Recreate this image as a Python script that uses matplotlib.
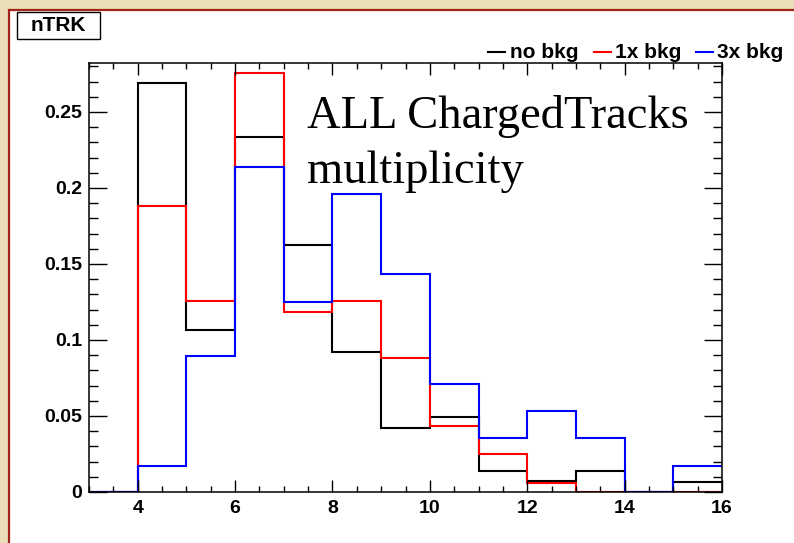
import matplotlib
matplotlib.use("Agg")
import matplotlib.pyplot as plt
from matplotlib.patches import Rectangle
from matplotlib.ticker import MultipleLocator, FixedLocator
import numpy as np

# ---- data ----
edges = [3, 4, 5, 6, 7, 8, 9, 10, 11, 12, 13, 14, 15, 16]
no_bkg = [0.0, 0.269, 0.1066, 0.2336, 0.1625, 0.0921, 0.042, 0.0493, 0.0138, 0.0072, 0.014, 0.0, 0.0068]
bkg_1x = [0.0, 0.188, 0.1257, 0.2757, 0.1184, 0.1257, 0.088, 0.0436, 0.0248, 0.0059, 0.0, 0.0, 0.0]
bkg_3x = [0.0, 0.0171, 0.0895, 0.2138, 0.125, 0.196, 0.1434, 0.0708, 0.0353, 0.0533, 0.0353, 0.0, 0.0173]
series_labels = ["no bkg", "1x bkg", "3x bkg"]
series_colors = ["#000000", "#ff0000", "#0000ff"]
title_text = "nTRK"
note_lines = ["ALL ChargedTracks", "multiplicity"]
xticks = [4, 6, 8, 10, 12, 14, 16]
yticks = [0, 0.05, 0.1, 0.15, 0.2, 0.25]
ytick_labels = ["0", "0.05", "0.1", "0.15", "0.2", "0.25"]

W, H = 794, 543
fig = plt.figure(figsize=(W / 100, H / 100), dpi=100)
fig.patch.set_facecolor("#eadfb6")

def px(x, y):
    return x / W, 1 - y / H

# white canvas with dark-red frame
x0, y0 = px(9, 10)
canvas = Rectangle((x0, -0.2), 1.2, y0 + 0.2, transform=fig.transFigure,
                   facecolor="white", edgecolor="#a3231a", linewidth=1.6, zorder=-5)
fig.patches.append(canvas)

L, R, T, B = 89, 722, 63, 492
ax = fig.add_axes([L / W, 1 - B / H, (R - L) / W, (B - T) / H])
ax.set_zorder(2)
ax.set_facecolor("white")

for vals, col in zip([no_bkg, bkg_1x, bkg_3x], series_colors):
    ax.stairs(vals, edges, color=col, linewidth=1.5, baseline=None)

ax.set_xlim(3, 16)
ax.set_ylim(0, 0.2822)

ax.xaxis.set_major_locator(FixedLocator(xticks))
ax.xaxis.set_minor_locator(MultipleLocator(0.5))
ax.yaxis.set_major_locator(FixedLocator(yticks))
ax.yaxis.set_minor_locator(MultipleLocator(0.01))
ax.set_yticklabels(ytick_labels)

ax.tick_params(axis="x", which="major", direction="in", length=8.6, width=1.0,
               top=True, bottom=True, pad=6)
ax.tick_params(axis="x", which="minor", direction="in", length=4.3, width=1.0,
               top=True, bottom=True)
ax.tick_params(axis="y", which="major", direction="in", length=13, width=1.0,
               left=True, right=True, pad=5)
ax.tick_params(axis="y", which="minor", direction="in", length=6.5, width=1.0,
               left=True, right=True)
for lab in ax.get_xticklabels() + ax.get_yticklabels():
    lab.set_fontfamily("Liberation Sans")
    lab.set_fontweight("bold")
    lab.set_fontsize(14)
for s in ax.spines.values():
    s.set_linewidth(1.1)

# annotation text (two lines, baselines at 128 and 183 px)
for line, base_y in zip(note_lines, [128, 183]):
    a, b = px(307, base_y)
    fig.text(a, b, line, ha="left", va="baseline", fontfamily="Liberation Serif",
             fontsize=33.5, color="black", zorder=5)

# title box
tx, ty = px(17, 39)
tw = (100 - 17) / W
th = (39 - 12) / H
fig.patches.append(Rectangle((tx, ty), tw, th, transform=fig.transFigure,
                             facecolor="white", edgecolor="black", linewidth=1.0, zorder=3))
fig.text(tx + tw / 2, ty + th / 2, title_text, ha="center", va="center",
         fontfamily="Liberation Sans", fontweight="bold", fontsize=15, zorder=4)

# legend
legend_pos = [(488, 510), (594, 615), (696, 717)]
ly = 52
for (lx, txp), lab, col in zip(legend_pos, series_labels, series_colors):
    a, b = px(lx, ly)
    c, _ = px(lx + 17, ly)
    fig.add_artist(plt.Line2D([a, c], [b, b], transform=fig.transFigure,
                              color=col, linewidth=1.5, zorder=4))
    t, _ = px(txp, ly)
    fig.text(t, b, lab, ha="left", va="center", fontfamily="Liberation Sans",
             fontweight="bold", fontsize=15, zorder=4)

fig.savefig("out.png", dpi=100, facecolor=fig.get_facecolor())
